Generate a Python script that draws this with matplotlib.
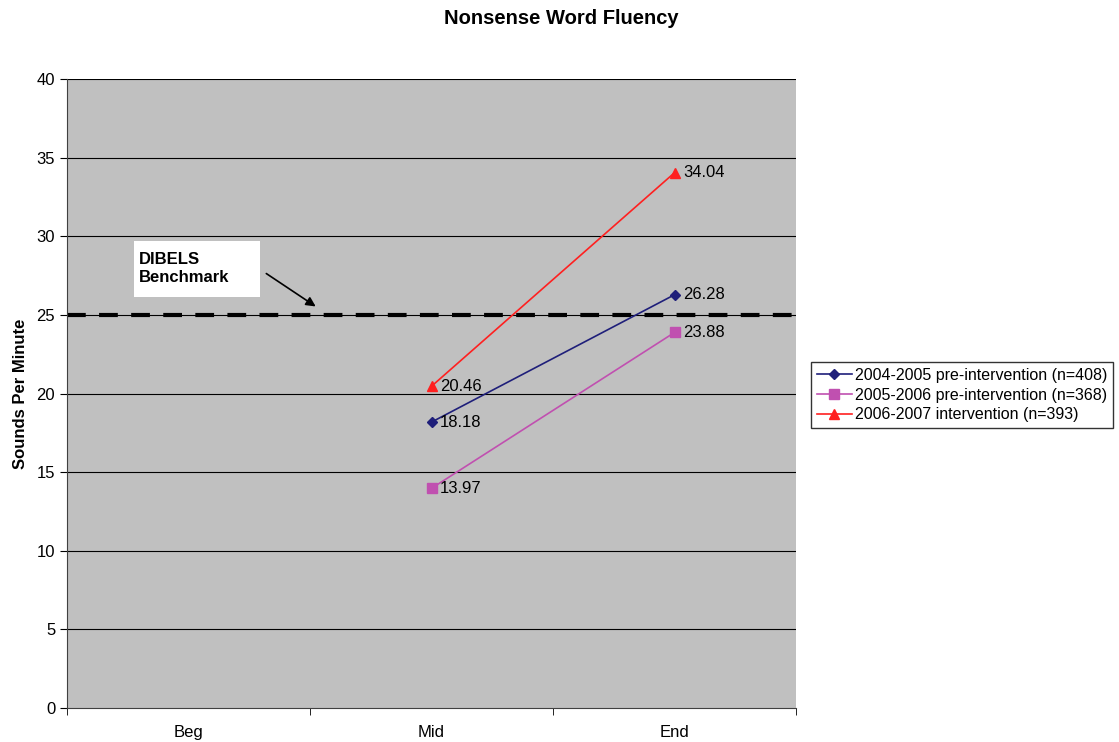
import matplotlib
matplotlib.use("Agg")
import matplotlib.pyplot as plt
from matplotlib.patches import Rectangle

categories = ["Beg", "Mid", "End"]
series_names = ["2004-2005 pre-intervention (n=408)",
                "2005-2006 pre-intervention (n=368)",
                "2006-2007 intervention (n=393)"]
values_0405 = [None, 18.18, 26.28]
values_0506 = [None, 13.97, 23.88]
values_0607 = [None, 20.46, 34.04]
benchmark = 25
colors = ["#1f1f7a", "#c050b0", "#ff2020"]
markers = ["D", "s", "^"]

plt.rcParams['font.family'] = ['Liberation Sans', 'DejaVu Sans']

fig = plt.figure(figsize=(11.19, 7.42), dpi=100)
ax = fig.add_axes([67/1119, 1-708/742, (796-67)/1119, (708-79)/742])
ax.set_facecolor("#c0c0c0")

for y in range(5, 41, 5):
    ax.axhline(y, color="black", lw=0.8, zorder=1)

ax.axhline(benchmark, color="black", lw=3, ls=(0, (4.5, 3.2)), zorder=2)

xs = [1, 2]
for vals, name, c, m in zip([values_0405, values_0506, values_0607], series_names, colors, markers):
    v = vals[1:]
    ms = 5 if m == "D" else 6.5
    ax.plot(xs, v, color=c, lw=1.2, marker=m, ms=ms, label=name, zorder=3)
    for x, y in zip(xs, v):
        ax.text(x + 0.035, y, f"{y:.2f}", va="center", ha="left", fontsize=12, zorder=4)

ax.set_xlim(-0.5, 2.5)
ax.set_ylim(0, 40)
ax.set_yticks(range(0, 41, 5))
ax.set_xticks([0, 1, 2])
ax.set_xticklabels(categories, fontsize=12)
ax.set_xticks([-0.5, 0.5, 1.5, 2.5], minor=True)
ax.tick_params(axis="x", which="major", length=0, pad=12)
ax.tick_params(axis="x", which="minor", length=5, direction="out")
ax.tick_params(axis="y", length=5, direction="out", labelsize=12)
for s in ["top", "right"]:
    ax.spines[s].set_visible(False)
ax.spines["left"].set_color("#404040")
ax.spines["bottom"].set_color("#404040")

ax.set_ylabel("Sounds Per Minute", fontsize=12, fontweight="bold", labelpad=6)
fig.text(561/1119, 1 - 19/742, "Nonsense Word Fluency", ha="center", va="center",
         fontsize=14.5, fontweight="bold")

# benchmark annotation box
fig.patches.append(Rectangle((134/1119, 1-297/742), 126/1119, 56/742, transform=fig.transFigure,
                             facecolor="white", edgecolor="none", zorder=5))
fig.text(139/1119, 1-268/742, "DIBELS\nBenchmark", ha="left", va="center", fontsize=12,
         fontweight="bold", linespacing=1.25, zorder=6)
ax.annotate("", xy=(318/1119, 1-308/742), xytext=(264/1119, 1-272/742),
            xycoords="figure fraction", textcoords="figure fraction",
            arrowprops=dict(arrowstyle="-|>", color="black", lw=1.2, mutation_scale=14))

leg = fig.legend(loc="center left", bbox_to_anchor=(811/1119, 1-395/742), fontsize=11.5,
                 frameon=True, fancybox=False, edgecolor="black", borderpad=0.35,
                 handlelength=2.2, handletextpad=0.2, labelspacing=0.3, borderaxespad=0)
leg.get_frame().set_linewidth(1.0)

fig.savefig("out.png", dpi=100)
